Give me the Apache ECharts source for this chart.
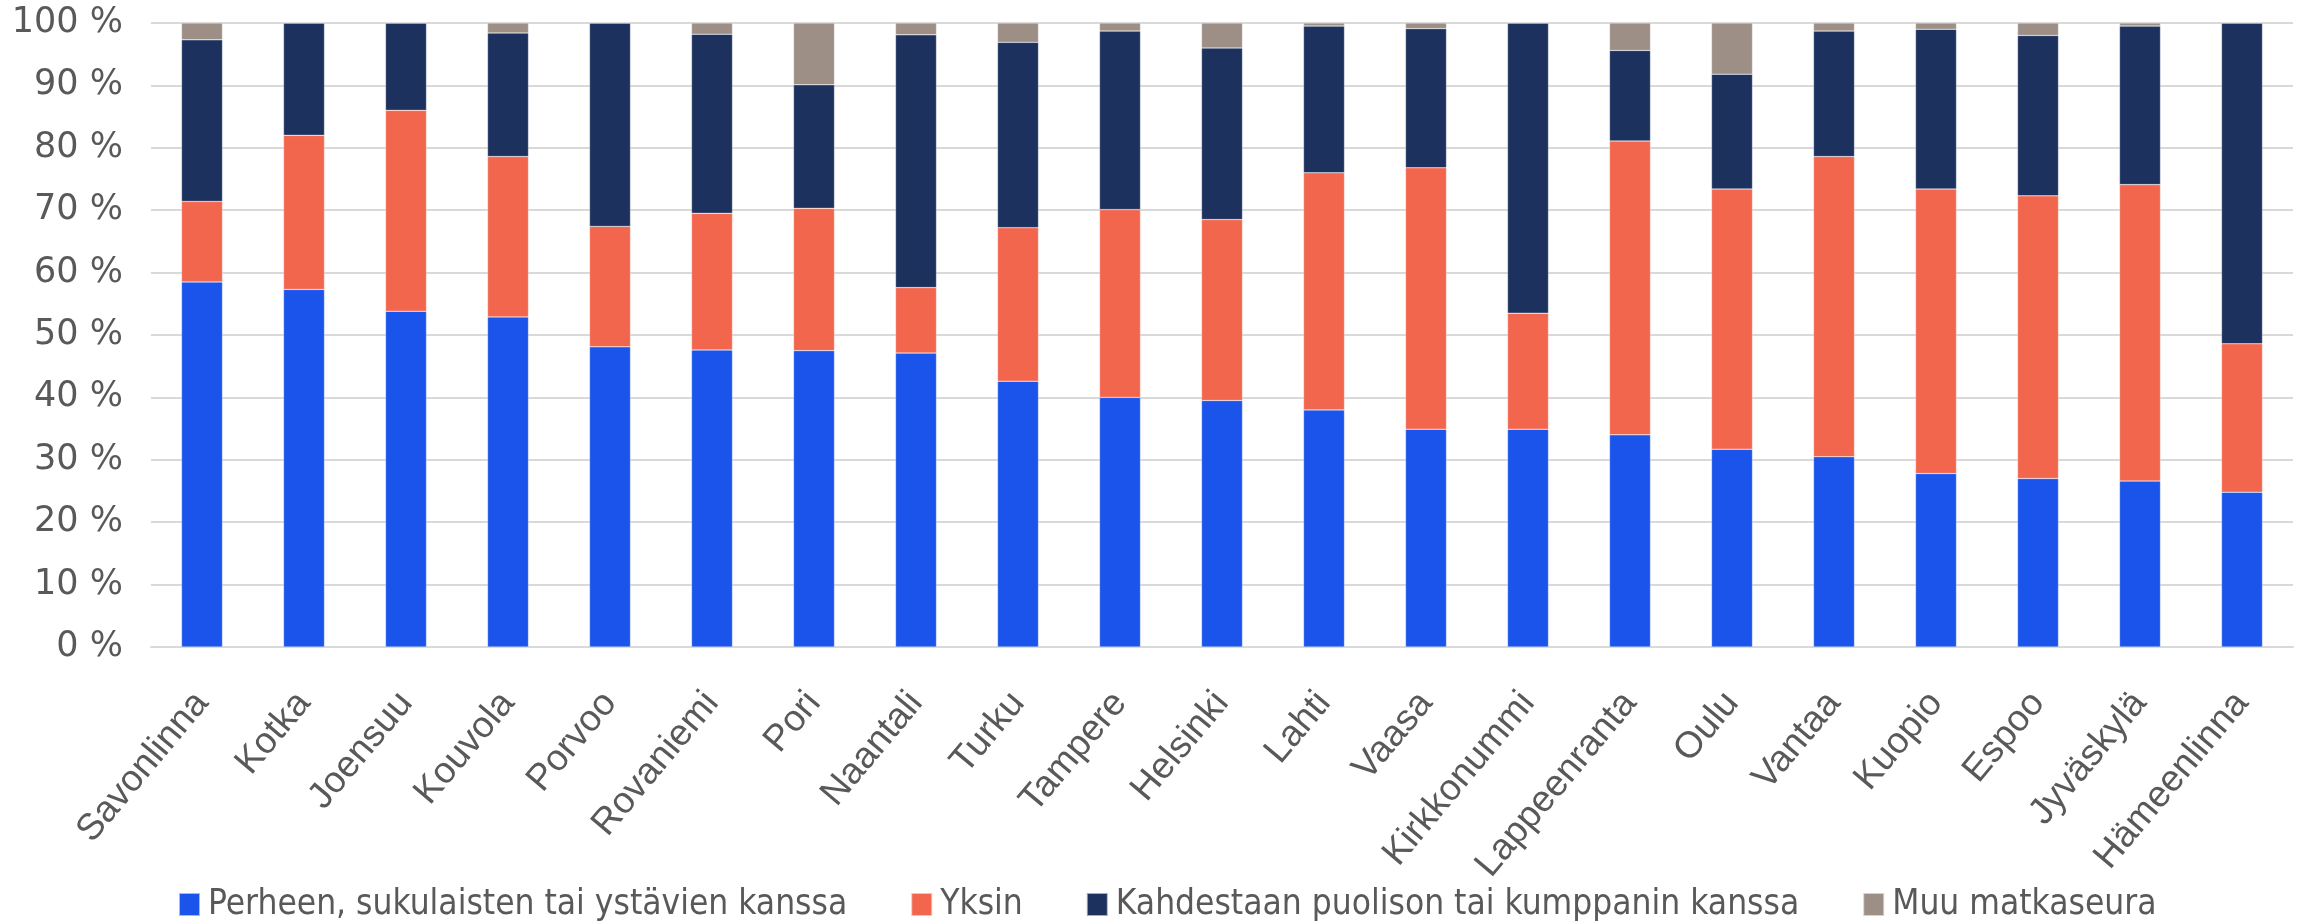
<!DOCTYPE html>
<html>
<head>
<meta charset="utf-8">
<script src="https://cdn.jsdelivr.net/npm/echarts@6/dist/echarts.min.js"></script>
<style>
  html, body { margin: 0; padding: 0; background: #fff; }
  #chart { width: 2300px; height: 924px; }
</style>
</head>
<body>
<div id="chart"></div>
<script>
// kaupungit
var cities = ['Savonlinna', 'Kotka', 'Joensuu', 'Kouvola', 'Porvoo', 'Rovaniemi', 'Pori', 'Naantali', 'Turku', 'Tampere', 'Helsinki',
  'Lahti', 'Vaasa', 'Kirkkonummi', 'Lappeenranta', 'Oulu', 'Vantaa', 'Kuopio', 'Espoo', 'Jyväskylä', 'Hämeenlinna'];

// osuudet, %
var perhe = [58.5, 57.3, 53.8, 52.9, 48.1, 47.6, 47.5, 47.1, 42.6, 40.0, 39.5, 38.0, 34.9, 34.9, 34.0, 31.7, 30.5, 27.8, 27.0, 26.6, 24.8];
var yksin = [12.9, 24.7, 32.2, 25.7, 19.3, 21.9, 22.8, 10.5, 24.6, 30.1, 29.0, 38.0, 41.9, 18.6, 47.1, 41.7, 48.1, 45.6, 45.3, 47.5, 23.8];
var kahdestaan = [25.9, 18.0, 14.0, 19.8, 32.6, 28.7, 19.8, 40.5, 29.7, 28.6, 27.5, 23.5, 22.3, 46.5, 14.5, 18.4, 20.1, 25.6, 25.7, 25.4, 51.4];
var muu = [2.7, 0, 0, 1.6, 0, 1.8, 9.9, 1.9, 3.1, 1.3, 4.0, 0.5, 0.9, 0, 4.4, 8.2, 1.3, 1.0, 2.0, 0.5, 0];

var seriesNames = ['Perheen, sukulaisten tai ystävien kanssa', 'Yksin', 'Kahdestaan puolison tai kumppanin kanssa', 'Muu matkaseura'];
var colors = ['#1B54EB', '#F2664E', '#1C315E', '#9D8E86'];

var myChart = echarts.init(document.getElementById('chart'));

function bar(name, data) {
  return {
    name: name,
    type: 'bar',
    stack: 'total',
    barWidth: 41,
    data: data,
    itemStyle: { borderColor: 'rgba(255,255,255,0.6)', borderWidth: 0.5 }
  };
}

var option = {
  animation: false,
  color: colors,
  grid: { left: 151, right: 7, top: 23, bottom: 277 },
  legend: {
    top: 882,
    left: 173,
    itemWidth: 21,
    itemHeight: 23,
    itemGap: 63,
    icon: 'rect',
    textStyle: {
      fontFamily: '"Liberation Sans Narrow", "DejaVu Sans Condensed", sans-serif',
      fontSize: 35,
      color: '#595959',
      padding: [0, 0, 0, 3]
    },
    data: seriesNames
  },
  xAxis: {
    type: 'category',
    data: cities,
    axisLine: { lineStyle: { color: '#d9d9d9', width: 2 } },
    axisTick: { show: false },
    axisLabel: {
      rotate: 50,
      interval: 0,
      margin: 50,
      fontFamily: '"Liberation Sans", Arial, sans-serif',
      fontSize: 37,
      color: '#595959'
    }
  },
  yAxis: {
    type: 'value',
    min: 0,
    max: 100,
    interval: 10,
    axisLabel: {
      formatter: '{value} %',
      margin: 28,
      fontFamily: '"DejaVu Sans", sans-serif',
      fontSize: 35,
      color: '#595959'
    },
    splitLine: { lineStyle: { color: '#d9d9d9', width: 2 } }
  },
  series: [
    bar(seriesNames[0], perhe),
    bar(seriesNames[1], yksin),
    bar(seriesNames[2], kahdestaan),
    bar(seriesNames[3], muu)
  ]
};
myChart.setOption(option);
</script>
</body>
</html>
